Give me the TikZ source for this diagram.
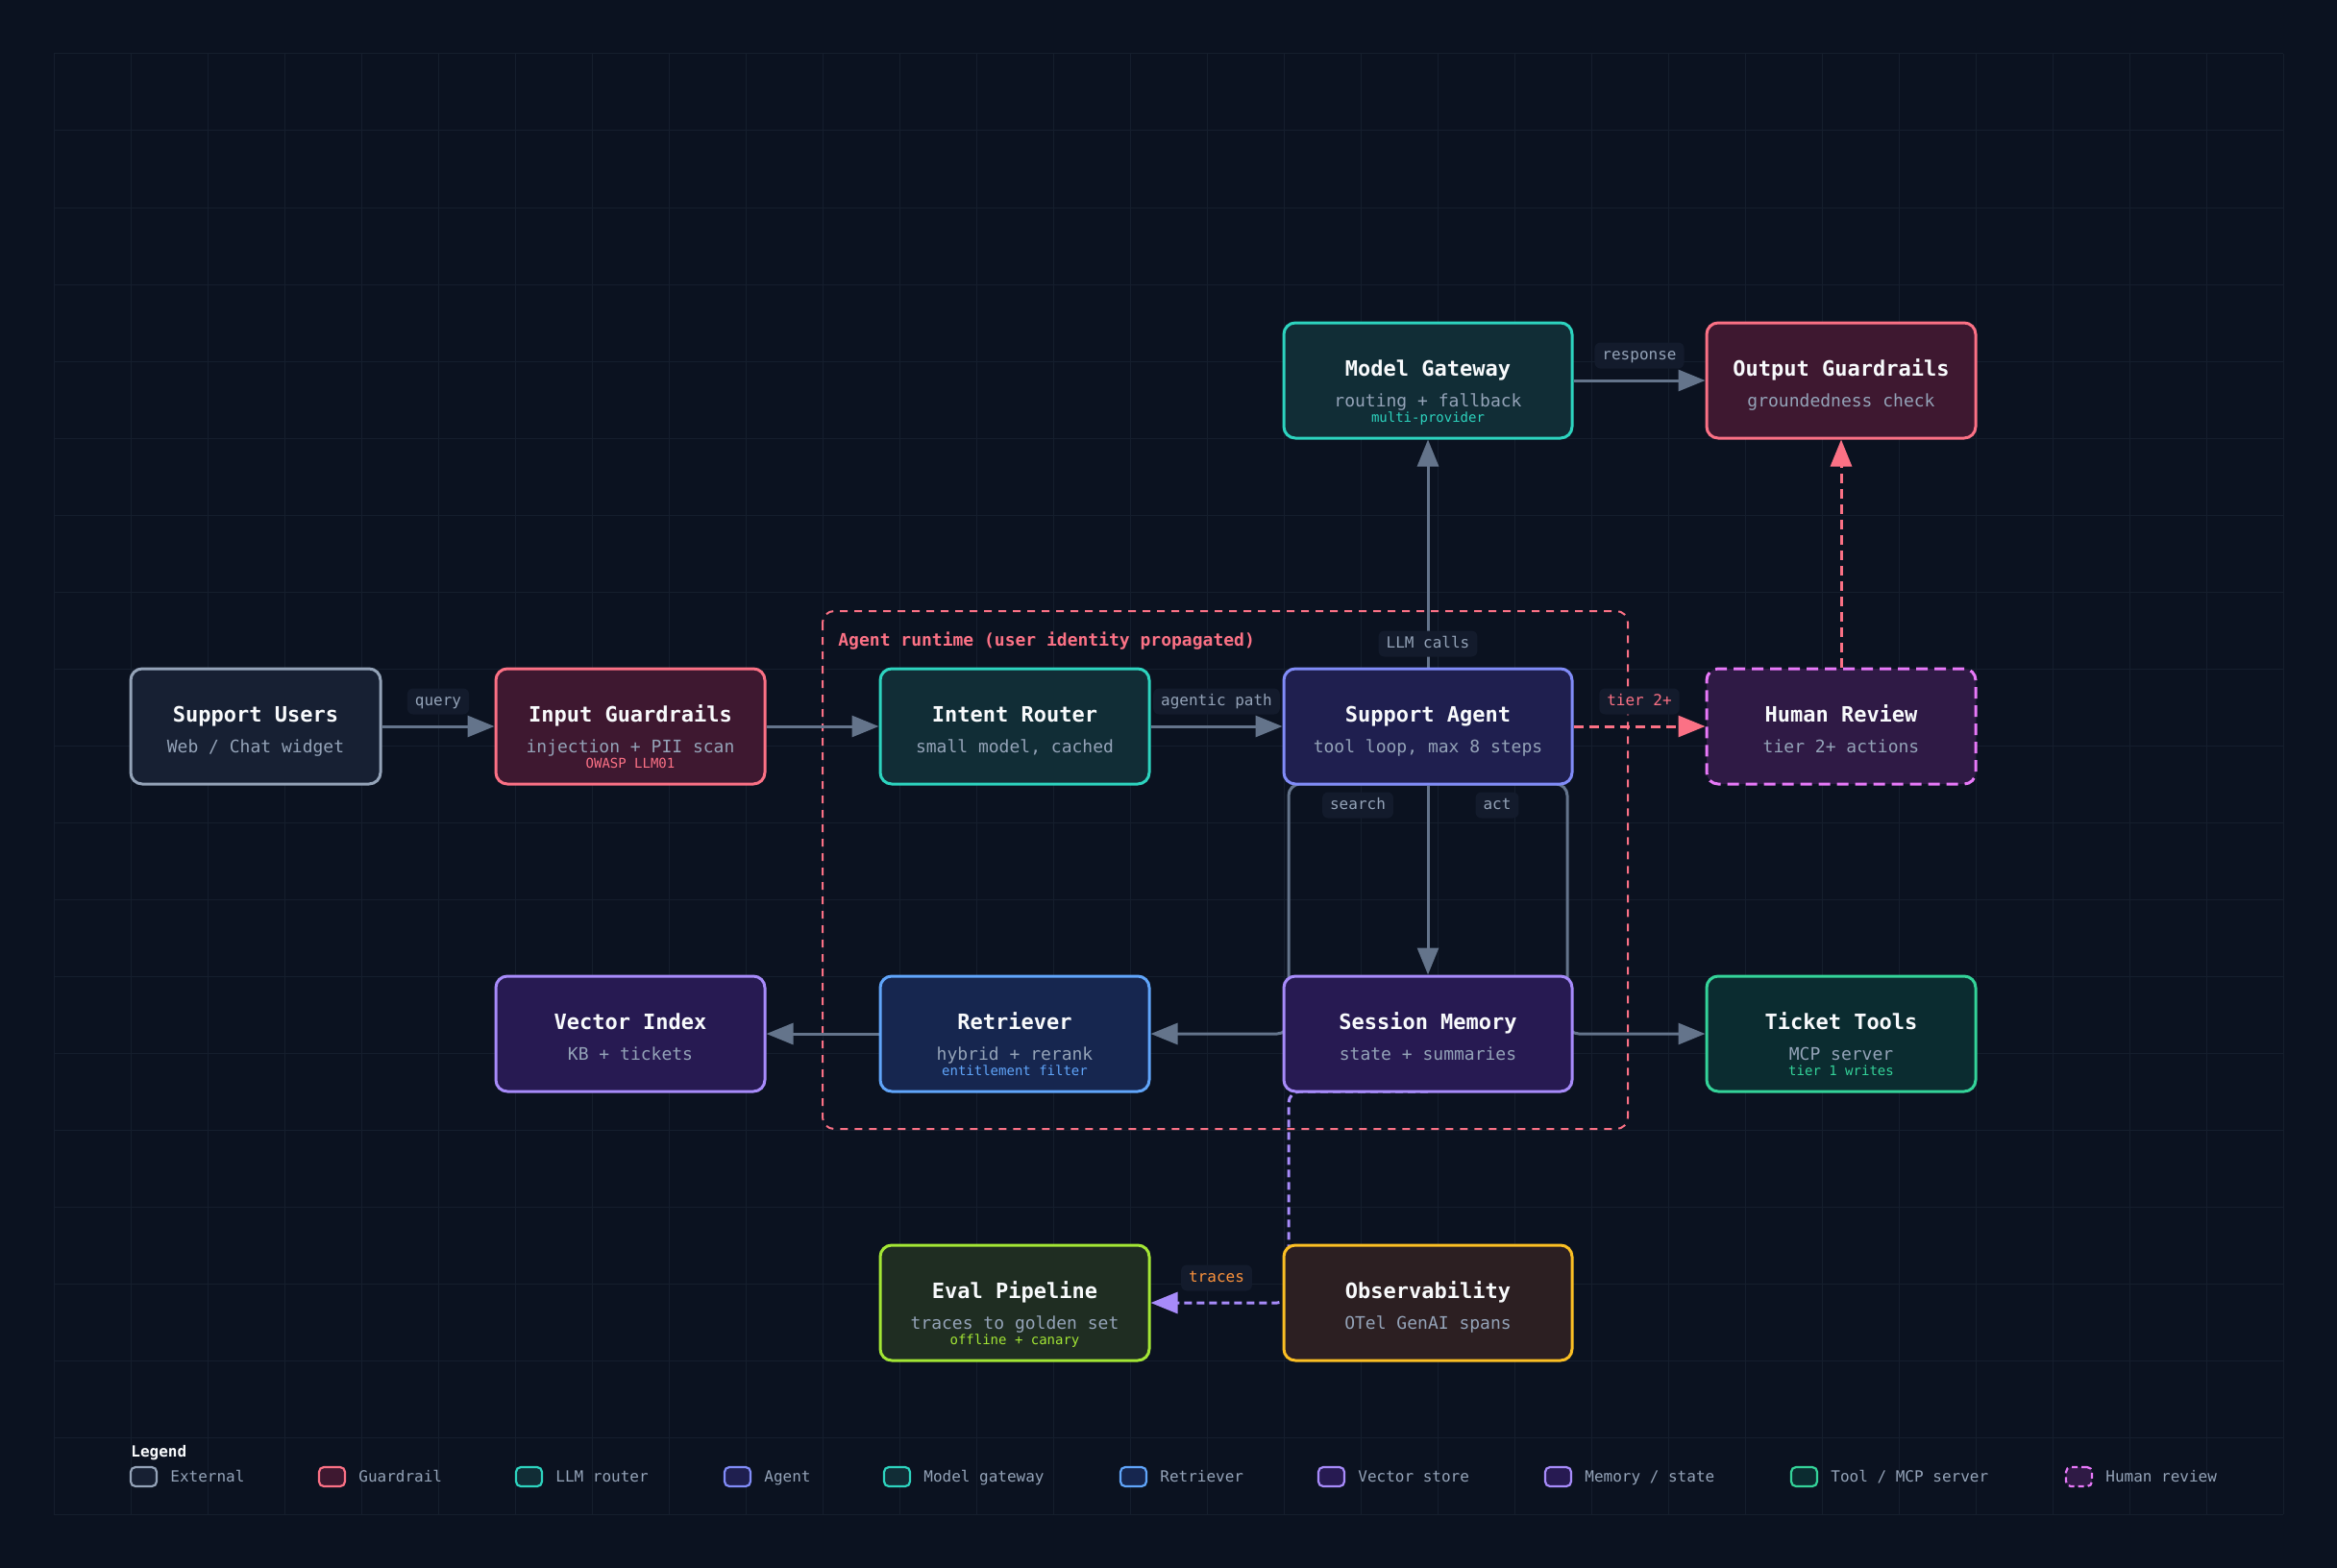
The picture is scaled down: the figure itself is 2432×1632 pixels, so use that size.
\documentclass[tikz,border=0pt]{standalone}
\usepackage{fontspec}
\setmainfont{DejaVu Sans Mono}
\usetikzlibrary{arrows.meta,calc}
\pgfdeclarelayer{gridlayer}
\pgfdeclarelayer{edgelayer}
\pgfsetlayers{gridlayer,edgelayer,main}
\definecolor{bgc}{HTML}{0B1220}
\definecolor{gridc}{HTML}{151E2D}
\definecolor{edgec}{HTML}{64748B}
\definecolor{subc}{HTML}{94A3B8}
\definecolor{titlec}{HTML}{F8FAFC}
\definecolor{pillc}{HTML}{131B2C}
\definecolor{extf}{HTML}{172033}\definecolor{extd}{HTML}{94A3B8}
\definecolor{grdf}{HTML}{3E1830}\definecolor{grdd}{HTML}{FB7185}
\definecolor{tealf}{HTML}{112D36}\definecolor{teald}{HTML}{2DD4BF}
\definecolor{agf}{HTML}{1F1F4F}\definecolor{agd}{HTML}{818CF8}
\definecolor{retf}{HTML}{16264F}\definecolor{retd}{HTML}{60A5FA}
\definecolor{vecf}{HTML}{271A52}\definecolor{vecd}{HTML}{A78BFA}
\definecolor{toolf}{HTML}{0B2C30}\definecolor{toold}{HTML}{34D399}
\definecolor{humf}{HTML}{2F1A45}\definecolor{humd}{HTML}{E879F9}
\definecolor{evf}{HTML}{1F2D22}\definecolor{evd}{HTML}{A3E635}
\definecolor{obsf}{HTML}{2C1F22}\definecolor{obsd}{HTML}{FBBF24}
\definecolor{orangec}{HTML}{FB923C}
\tikzset{
  box/.style={draw, rounded corners=6pt, line width=1.5pt, minimum height=60pt, inner sep=0pt},
  ext/.style={fill=extf, draw=extd},
  grd/.style={fill=grdf, draw=grdd},
  teal/.style={fill=tealf, draw=teald},
  agt/.style={fill=agf, draw=agd},
  ret/.style={fill=retf, draw=retd},
  vec/.style={fill=vecf, draw=vecd},
  tool/.style={fill=toolf, draw=toold},
  hum/.style={fill=humf, draw=humd, dash pattern=on 6pt off 3.5pt},
  evl/.style={fill=evf, draw=evd},
  obs/.style={fill=obsf, draw=obsd},
  ttl/.style={text=titlec, font=\fontsize{11}{13}\selectfont\bfseries, inner sep=0pt, anchor=base},
  subt/.style={text=subc, font=\fontsize{9}{11}\selectfont, inner sep=0pt, anchor=base},
  sml/.style={font=\fontsize{7}{8}\selectfont, inner sep=0pt, anchor=base},
  edge/.style={draw=edgec, line width=1.5pt, -{Triangle[length=14pt,width=11pt]}},
  pinkedge/.style={draw=grdd, line width=1.5pt, dash pattern=on 5pt off 3pt, -{Triangle[length=14pt,width=11pt]}},
  tredge/.style={draw=vecd, line width=1.5pt, dash pattern=on 4pt off 2.5pt, -{Triangle[length=14pt,width=11pt]}},
  pill/.style={fill=pillc, rounded corners=3pt, inner xsep=4pt, inner ysep=0pt, minimum height=13.5pt,
    text height=6pt, text depth=1.7pt, text=subc, font=\fontsize{8}{10}\selectfont},
  lsw/.style={draw, rounded corners=2.5pt, line width=1.1pt, minimum width=13.5pt, minimum height=10pt, inner sep=0pt},
  ltx/.style={anchor=west, inner sep=0pt, text=subc, font=\fontsize{8}{10}\selectfont, text height=6pt, text depth=1.7pt},
}
\newcommand\blk[8]{%
  \node[box,#5,minimum width=#4*0.5pt] (#1) at (#2,#3) {};
  \node[ttl] (#1-t) at ($(#1.center)+(0,-4.5)$) {#6};
  \node[subt] (#1-s) at ($(#1.center)+(0,27.5)$) {#7};
  \if\relax\detokenize{#8}\relax\else
  \node[sml] (#1-x) at ($(#1.center)+(0,43.5)$) {#8};
  \fi
}
\newcommand\legitem[4]{%
  \node[lsw,#3] (#1) at (#2+13.5,1537) {};
  \node[ltx] (#1-l) at (#2+41,1538) {#4};
}
\begin{document}
\begin{tikzpicture}[x=0.5pt,y=-0.5pt]
\useasboundingbox (0,0) rectangle (2432,1632);
\begin{pgfonlayer}{gridlayer}
\fill[bgc] (0,0) rectangle (2432,1632);
\foreach \i in {0,...,29} \draw[gridc, line width=0.5pt] (56+80*\i,56) -- (56+80*\i,1576);
\foreach \j in {0,...,19} \draw[gridc, line width=0.5pt] (56,56+80*\j) -- (2376,56+80*\j);
\draw[grdd, line width=1pt, dash pattern=on 4pt off 3.5pt, rounded corners=6pt] (856,636) rectangle (1694,1175);
\end{pgfonlayer}
\node[anchor=base west, inner sep=0pt, text=grdd, font=\fontsize{9}{11}\selectfont\bfseries] (rtlabel) at (872,672) {Agent runtime (user identity propagated)};

\blk{users}{266}{756}{260}{ext}{Support Users}{Web / Chat widget}{}
\blk{ing}{656}{756}{280}{grd}{Input Guardrails}{injection + PII scan}{\textcolor{grdd}{OWASP LLM01}}
\blk{router}{1056}{756}{280}{teal}{Intent Router}{small model, cached}{}
\blk{agent}{1486}{756}{300}{agt}{Support Agent}{tool loop, max 8 steps}{}
\blk{human}{1916}{756}{280}{hum}{Human Review}{tier 2+ actions}{}
\blk{mg}{1486}{396}{300}{teal}{Model Gateway}{routing + fallback}{\textcolor{teald}{multi-provider}}
\blk{outg}{1916}{396}{280}{grd}{Output Guardrails}{groundedness check}{}
\blk{vec}{656}{1076}{280}{vec}{Vector Index}{KB + tickets}{}
\blk{retr}{1056}{1076}{280}{ret}{Retriever}{hybrid + rerank}{\textcolor{retd}{entitlement filter}}
\blk{mem}{1486}{1076}{300}{vec}{Session Memory}{state + summaries}{}
\blk{tools}{1916}{1076}{280}{tool}{Ticket Tools}{MCP server}{\textcolor{toold}{tier 1 writes}}
\blk{eval}{1056}{1356}{280}{evl}{Eval Pipeline}{traces to golden set}{\textcolor{evd}{offline + canary}}
\blk{obsv}{1486}{1356}{300}{obs}{Observability}{OTel GenAI spans}{}

\coordinate (sx) at (1341,0);
\coordinate (ax) at (1631,0);
\coordinate (agb) at ($(agent.south)+(0,-1.5)$);
\coordinate (memb) at ($(mem.south)+(0,-1.5)$);
\begin{pgfonlayer}{edgelayer}
\draw[edge] (users.east) -- (ing.west);
\draw[edge] (ing.east) -- (router.west);
\draw[edge] (router.east) -- (agent.west);
\draw[edge] (agent.north) -- (mg.south);
\draw[edge] (mg.east) -- (outg.west);
\draw[pinkedge] (agent.east) -- (human.west);
\draw[pinkedge] (human.north) -- (outg.south);
\draw[edge] (agent.south) -- (mem.north);
\draw[edge, rounded corners=6pt] (agb) -- (agb -| sx) |- (retr.east);
\draw[edge, rounded corners=6pt] (agb) -- (agb -| ax) |- (tools.west);
\draw[edge] (retr.west) -- (vec.east);
\draw[tredge, rounded corners=6pt] (memb) -- (memb -| sx) |- (eval.east);
\end{pgfonlayer}

\node[pill] (lq) at (456,730) {query};
\node[pill] (lap) at (1266,730) {agentic path};
\node[pill] (llm) at (1486,670) {LLM calls};
\node[pill] (lresp) at (1706,370) {response};
\node[pill, text=grdd] (ltier) at (1706,730) {tier 2+};
\node[pill] (lsearch) at (1413,838) {search};
\node[pill] (lact) at (1558,838) {act};
\node[pill, text=orangec] (ltr) at (1266,1330) {traces};

\node[anchor=west, inner sep=0pt, text=titlec, font=\fontsize{8}{10}\selectfont\bfseries] (leg) at (136,1512) {Legend};
\legitem{lg1}{136}{fill=extf,draw=extd}{External}
\legitem{lg2}{332}{fill=grdf,draw=grdd}{Guardrail}
\legitem{lg3}{537}{fill=tealf,draw=teald}{LLM router}
\legitem{lg4}{754}{fill=agf,draw=agd}{Agent}
\legitem{lg5}{920}{fill=tealf,draw=teald}{Model gateway}
\legitem{lg6}{1166}{fill=retf,draw=retd}{Retriever}
\legitem{lg7}{1372}{fill=vecf,draw=vecd}{Vector store}
\legitem{lg8}{1608}{fill=vecf,draw=vecd}{Memory / state}
\legitem{lg9}{1864}{fill=toolf,draw=toold}{Tool / MCP server}
\legitem{lg10}{2150}{fill=humf,draw=humd,dash pattern=on 3pt off 2pt}{Human review}
\end{tikzpicture}
\end{document}
